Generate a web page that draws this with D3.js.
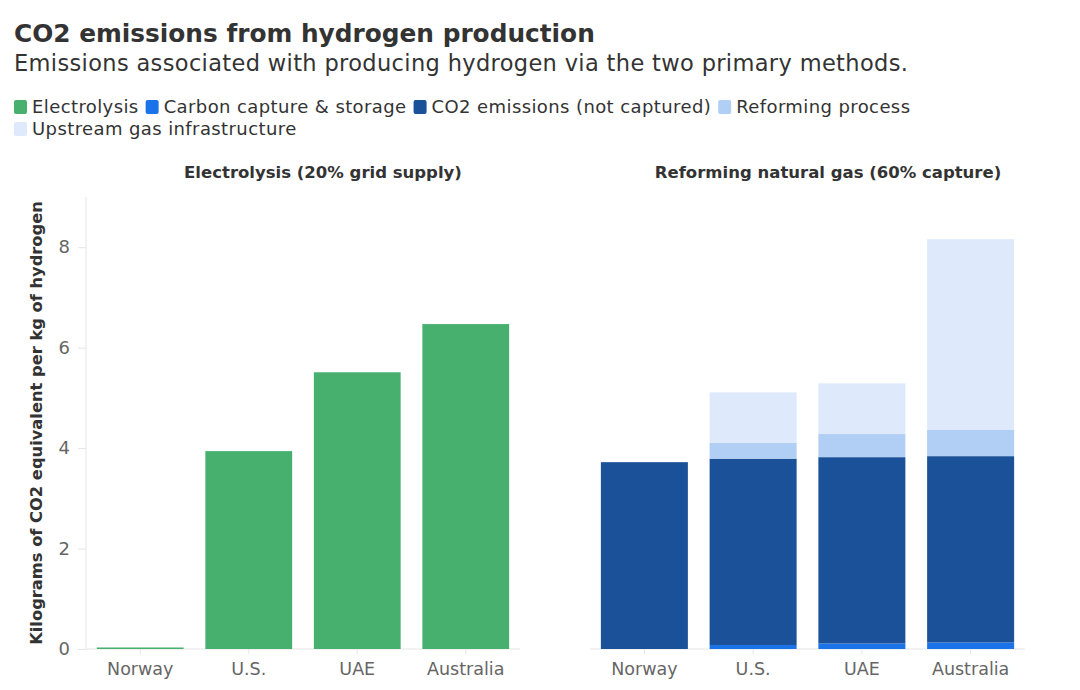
<!DOCTYPE html>
<html>
<head>
<meta charset="utf-8">
<script src="https://cdn.jsdelivr.net/npm/d3@7"></script>
<style>
body { margin: 0; background: #fff; font-family: "DejaVu Sans", sans-serif; }
</style>
</head>
<body>
<script>
var width = 1080
var height = 690

var countries = ["Norway", "U.S.", "UAE", "Australia"]
var electrolysis = [0.03, 3.94, 5.51, 6.47]
var carbonCapture = [0, 0.08, 0.11, 0.13]
var co2NotCaptured = [3.72, 3.71, 3.71, 3.71]
var reformingProcess = [0, 0.32, 0.46, 0.53]
var upstreamGas = [0, 1.0, 1.01, 3.79]
var yTicks = [0, 2, 4, 6, 8]

var seriesNames = ["Electrolysis", "Carbon capture & storage", "CO2 emissions (not captured)", "Reforming process", "Upstream gas infrastructure"]
var seriesColors = ["#47b06e", "#1a73e8", "#1a5198", "#b1cef5", "#deeafc"]

var svg = d3.select("body").append("svg")
    .attr("width", width)
    .attr("height", height)

svg.append("text").attr("x", 14).attr("y", 42)
    .style("font-size", "24.8px").style("font-weight", 700).style("fill", "#333")
    .text("CO2 emissions from hydrogen production")
svg.append("text").attr("x", 14).attr("y", 71)
    .style("font-size", "22.5px").style("letter-spacing", "0.35px").style("fill", "#333")
    .text("Emissions associated with producing hydrogen via the two primary methods.")

// legend, wraps onto a second line
var lx = 14, ly = 107
seriesNames.forEach(function(name, i){
    var g = svg.append("g")
    var t = g.append("text").attr("x", lx + 18).attr("y", ly + 6)
        .style("font-size", "18px").style("letter-spacing", "0.4px").style("fill", "#333").text(name)
    var w = t.node().getComputedTextLength()
    if(lx + 18 + w > 920){
        lx = 14; ly += 22
        t.attr("x", lx + 18).attr("y", ly + 6)
    }
    g.append("rect").attr("x", lx).attr("y", ly - 7).attr("width", 13).attr("height", 14)
        .attr("rx", 2).style("fill", seriesColors[i])
    lx = lx + 18 + w + 7
})

var y = d3.scaleLinear().domain([0, 9]).range([649, 197])

var xLeft = d3.scaleBand().domain(countries).range([86, 520]).paddingInner(0.2).paddingOuter(0.1)
var xRight = d3.scaleBand().domain(countries).range([590, 1025]).paddingInner(0.2).paddingOuter(0.1)

// y axis
var yAxis = svg.append("g").attr("transform", "translate(86,0)")
    .call(d3.axisLeft(y).tickValues(yTicks).tickSize(8).tickPadding(8))
yAxis.select(".domain").remove()
yAxis.selectAll(".tick line").style("stroke", "#e6e6e6")
yAxis.selectAll(".tick text").style("font-size", "18px").style("fill", "#666").style("font-family", "DejaVu Sans, sans-serif")
svg.append("line").attr("x1", 86).attr("x2", 86).attr("y1", 197).attr("y2", 649)
    .style("stroke", "#e6e6e6")

svg.append("text")
    .attr("transform", "translate(42," + ((197 + 649) / 2) + ") rotate(-90)")
    .attr("text-anchor", "middle")
    .style("font-size", "16.3px").style("font-weight", 700).style("fill", "#333")
    .text("Kilograms of CO2 equivalent per kg of hydrogen")

var drawXAxis = function(x){
    var ax = svg.append("g").attr("transform", "translate(0,649)")
        .call(d3.axisBottom(x).tickSize(5).tickPadding(9))
    ax.select(".domain").attr("d", "M" + x.range()[0] + ",0H" + x.range()[1]).style("stroke", "#e6e6e6")
    ax.selectAll(".tick line").style("stroke", "#e6e6e6")
    ax.selectAll(".tick text").style("font-size", "17.5px").style("fill", "#666").style("font-family", "DejaVu Sans, sans-serif")
}
drawXAxis(xLeft)
drawXAxis(xRight)

// panel titles
svg.append("text").attr("x", 323).attr("y", 178).attr("text-anchor", "middle")
    .style("font-size", "16.5px").style("font-weight", 700).style("fill", "#333")
    .text("Electrolysis (20% grid supply)")
svg.append("text").attr("x", 828).attr("y", 178).attr("text-anchor", "middle")
    .style("font-size", "16.5px").style("font-weight", 700).style("fill", "#333")
    .text("Reforming natural gas (60% capture)")

// electrolysis bars
svg.selectAll(".elec").data(countries).enter().append("rect")
    .attr("x", function(d){ return xLeft(d) })
    .attr("width", xLeft.bandwidth())
    .attr("y", function(d, i){ return y(electrolysis[i]) })
    .attr("height", function(d, i){ return y(0) - y(electrolysis[i]) })
    .style("fill", seriesColors[0])

// stacked reforming bars
var table = countries.map(function(c, i){
    return {country: c, ccs: carbonCapture[i], co2: co2NotCaptured[i], reform: reformingProcess[i], upstream: upstreamGas[i]}
})
var keys = ["ccs", "co2", "reform", "upstream"]
var stacked = d3.stack().keys(keys)(table)

svg.selectAll(".layer").data(stacked).enter().append("g")
    .style("fill", function(d, i){ return seriesColors[i + 1] })
    .selectAll("rect").data(function(d){ return d }).enter().append("rect")
    .attr("x", function(d){ return xRight(d.data.country) })
    .attr("width", xRight.bandwidth())
    .attr("y", function(d){ return y(d[1]) })
    .attr("height", function(d){ return y(d[0]) - y(d[1]) })
</script>
</body>
</html>
